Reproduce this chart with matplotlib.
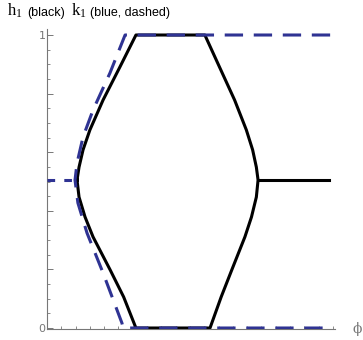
import numpy as np
import matplotlib.pyplot as plt
from matplotlib.ticker import MultipleLocator, FixedLocator

# h1 (solid black): closed loop plus the flat branch to the right
h_phi = [0.105, 0.112, 0.126, 0.150, 0.196, 0.255, 0.311, 0.552, 0.603, 0.656,
         0.697, 0.719, 0.732, 0.738, 0.732, 0.715, 0.692, 0.646, 0.609, 0.570,
         0.311, 0.268, 0.221, 0.161, 0.133, 0.112, 0.105]
h_val = [0.505, 0.549, 0.608, 0.676, 0.778, 0.891, 1.0, 1.0, 0.891, 0.778,
         0.676, 0.608, 0.549, 0.505, 0.447, 0.379, 0.311, 0.198, 0.106, 0.0,
         0.0, 0.106, 0.198, 0.311, 0.379, 0.447, 0.505]
h_tail_phi = [0.738, 0.986]
h_tail_val = [0.505, 0.505]

# k1 (blue dashed)
k_phi = [0.99, 0.273, 0.220, 0.161, 0.126, 0.105, 0.098, 0.108, 0.140, 0.196,
         0.262, 0.266, 0.99]
k_val = [1.0, 1.0, 0.870, 0.744, 0.652, 0.563, 0.505, 0.427, 0.324, 0.188,
         0.017, 0.0, 0.0]
k_tail_phi = [0.0, 0.098]
k_tail_val = [0.505, 0.505]

W, H = 363, 340
blue = '#2f3393'
grey = '#777777'

plt.rcParams['mathtext.fontset'] = 'custom'
plt.rcParams['mathtext.rm'] = 'Liberation Serif'
plt.rcParams['mathtext.it'] = 'Liberation Serif:italic'

fig = plt.figure(figsize=(W / 100, H / 100), dpi=100)
ax = fig.add_axes([47 / W, (H - 329) / H, 288 / W, 300 / H])

ax.plot(h_phi, h_val, color='black', linewidth=2.2, solid_joinstyle='round', zorder=2)
ax.plot(h_tail_phi, h_tail_val, color='black', linewidth=2.2, zorder=2)
ax.plot(k_phi, k_val, color=blue, linewidth=2.2, dashes=(6, 3.5), zorder=3)
ax.plot(k_tail_phi, k_tail_val, color=blue, linewidth=2.2, dashes=(2.5, 3), zorder=3)

ax.set_xlim(0, 1.007)
ax.set_ylim(-0.0034, 1.0205)

for side in ['top', 'right']:
    ax.spines[side].set_visible(False)
for side in ['left', 'bottom']:
    ax.spines[side].set_color(grey)
    ax.spines[side].set_linewidth(0.8)

ax.yaxis.set_major_locator(FixedLocator(np.arange(0, 1.01, 0.2)))
ax.yaxis.set_minor_locator(MultipleLocator(0.05))
ax.set_yticklabels(['0', '', '', '', '', '1'])
ax.xaxis.set_major_locator(MultipleLocator(0.05))
ax.set_xticklabels([])
ax.tick_params(axis='y', which='major', direction='in', length=4, width=0.7,
               color=grey, labelcolor=grey, labelsize=8, pad=1)
ax.tick_params(axis='y', which='minor', direction='in', length=2, width=0.6, color=grey)
ax.tick_params(axis='x', which='major', direction='in', length=2, width=0.6, color=grey)

# axis label
fig.text(357 / W, 1 - 329 / H, '\u03d5', fontsize=10, color=grey, ha='center',
         va='center', family=['DejaVu Serif'])

# legend line above the plot
base = 1 - 16 / H
fig.text(7 / W, base, r'$\mathrm{h}_{1}$', fontsize=12, color='black', va='baseline')
fig.text(27 / W, base, '(black)', fontsize=9, color='black', va='baseline',
         family='Liberation Sans')
fig.text(71 / W, base, r'$\mathrm{k}_{1}$', fontsize=12, color='black', va='baseline')
fig.text(90 / W, base, '(blue, dashed)', fontsize=9, color='black', va='baseline',
         family='Liberation Sans')

fig.savefig('out.png', dpi=100)
